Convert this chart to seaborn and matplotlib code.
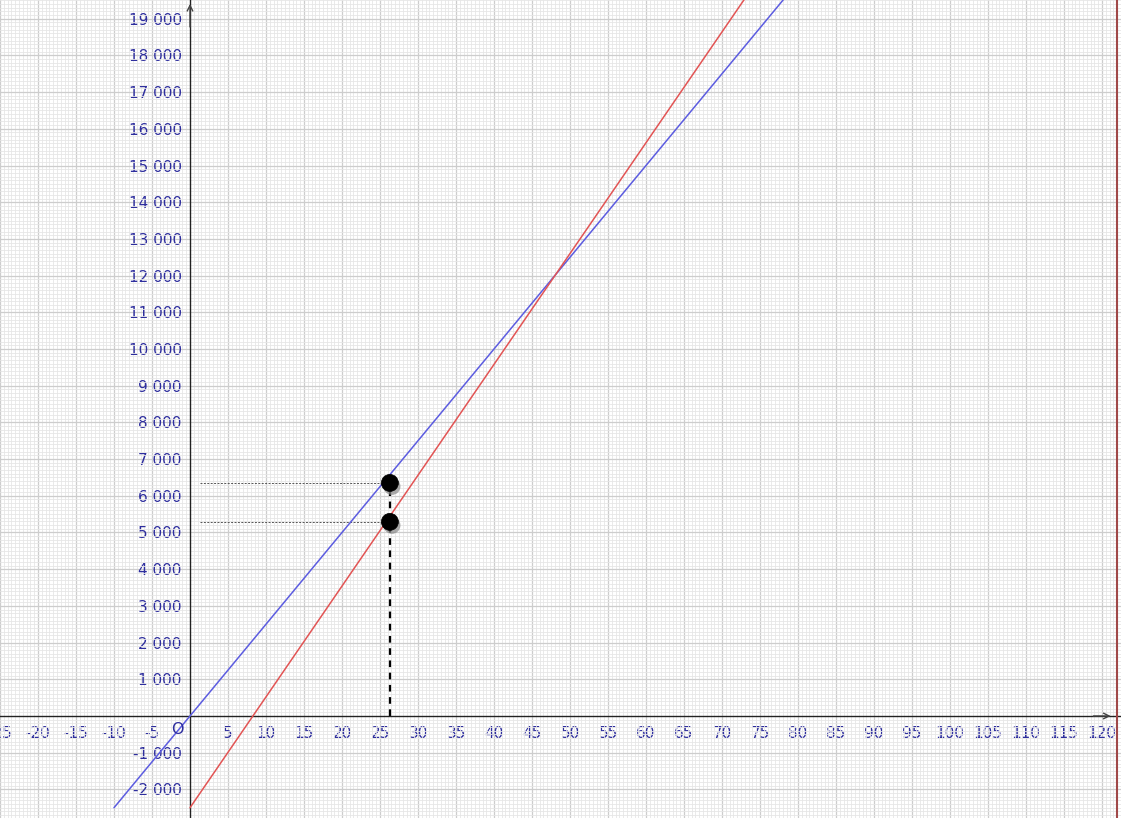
import matplotlib
matplotlib.use('Agg')
import pandas as pd
import matplotlib.pyplot as plt
import matplotlib.patheffects as pe
from matplotlib.ticker import FixedLocator, MultipleLocator, FuncFormatter
import seaborn as sns

# ---------------------------
# Data
# ---------------------------
blue_x = [-10, 80]
blue_y = [-2500, 20000]
red_x = [0, 75]
red_y = [-2500, 20150]

point_x = [26.3, 26.3]
point_y = [6350, 5290]

xticks = [-25, -20, -15, -10, -5, 5, 10, 15, 20, 25, 30, 35, 40, 45, 50, 55, 60,
          65, 70, 75, 80, 85, 90, 95, 100, 105, 110, 115, 120]
yticks = [-2000, -1000, 1000, 2000, 3000, 4000, 5000, 6000, 7000, 8000, 9000,
          10000, 11000, 12000, 13000, 14000, 15000, 16000, 17000, 18000, 19000]

lines = pd.DataFrame({
    "x": blue_x + red_x,
    "y": blue_y + red_y,
    "series": ["blue"] * len(blue_x) + ["red"] * len(red_x),
})
points = pd.DataFrame({"x": point_x, "y": point_y})

# ---------------------------
# Plot
# ---------------------------
sns.set_style("white")
plt.rcParams['font.family'] = ['DejaVu Sans']

fig = plt.figure(figsize=(11.21, 8.18), dpi=100)
ax = fig.add_axes([0, 0, 1, 1])
ax.set_xlim(-25, 122.5)
ax.set_ylim(-2780, 19510)

# grid: fine, then major
ax.xaxis.set_minor_locator(MultipleLocator(0.5))
ax.yaxis.set_minor_locator(MultipleLocator(100))
ax.xaxis.set_major_locator(FixedLocator(xticks))
ax.yaxis.set_major_locator(FixedLocator(yticks))
ax.grid(True, which="minor", color="#e6e6e6", linewidth=0.6)
ax.grid(True, which="major", color="#cdcdcd", linewidth=0.9)
ax.set_axisbelow(True)

sns.lineplot(data=lines, x="x", y="y", hue="series",
             palette={"blue": "#5c5ce0", "red": "#e25454"},
             sort=False, legend=False, linewidth=1.1, ax=ax, zorder=3)

# helper lines to the points
ax.hlines(point_y, 1.3, point_x, colors="#555555", linestyles=(0, (2, 1.5)),
          linewidth=0.7, zorder=2)
ax.vlines(point_x[0], 0, max(point_y), colors="black",
          linestyles=(0, (3, 2.5)), linewidth=1.6, zorder=2)

sns.scatterplot(data=points, x="x", y="y", color="black", s=150,
                edgecolor="black", linewidth=0.5, legend=False, ax=ax, zorder=5)
ax.collections[-1].set_path_effects([
    pe.SimplePatchShadow(offset=(1.5, -2.5), shadow_rgbFace="#888888", alpha=0.7),
    pe.Normal(),
])

# axes through the origin
for side in ["top", "right"]:
    ax.spines[side].set_visible(False)
for side in ["left", "bottom"]:
    ax.spines[side].set_position(("data", 0))
    ax.spines[side].set_color("#222222")
    ax.spines[side].set_linewidth(1.0)

label_blue = "#2e2e9e"
ax.yaxis.set_major_formatter(FuncFormatter(lambda v, p: f"{int(v):,}".replace(",", " ")))
ax.xaxis.set_major_formatter(FuncFormatter(lambda v, p: f"{int(v)}"))
ax.tick_params(axis="both", which="major", direction="inout", length=8,
               width=1.0, color="#222222", labelsize=11, labelcolor=label_blue)
ax.tick_params(axis="both", which="minor", direction="inout", length=5,
               width=0.7, color="#222222")
ax.tick_params(axis="x", which="major", pad=3)
ax.tick_params(axis="y", which="major", pad=2)
ax.set_xlabel("")
ax.set_ylabel("")

ax.text(-1.7, -380, "O", color=label_blue, fontsize=11.5, ha="center", va="center")

# arrow heads at the axis ends
ax.annotate("", xy=(121.5, 0), xytext=(118.5, 0),
            arrowprops=dict(arrowstyle="->", color="#444444", lw=1.0))
ax.annotate("", xy=(0, 19480), xytext=(0, 18700),
            arrowprops=dict(arrowstyle="->", color="#444444", lw=1.0))

# window border on the right
ax.axvline(122, color="#a04848", linewidth=1.5, zorder=6)

fig.savefig("out.png", dpi=100)
plt.close(fig)
